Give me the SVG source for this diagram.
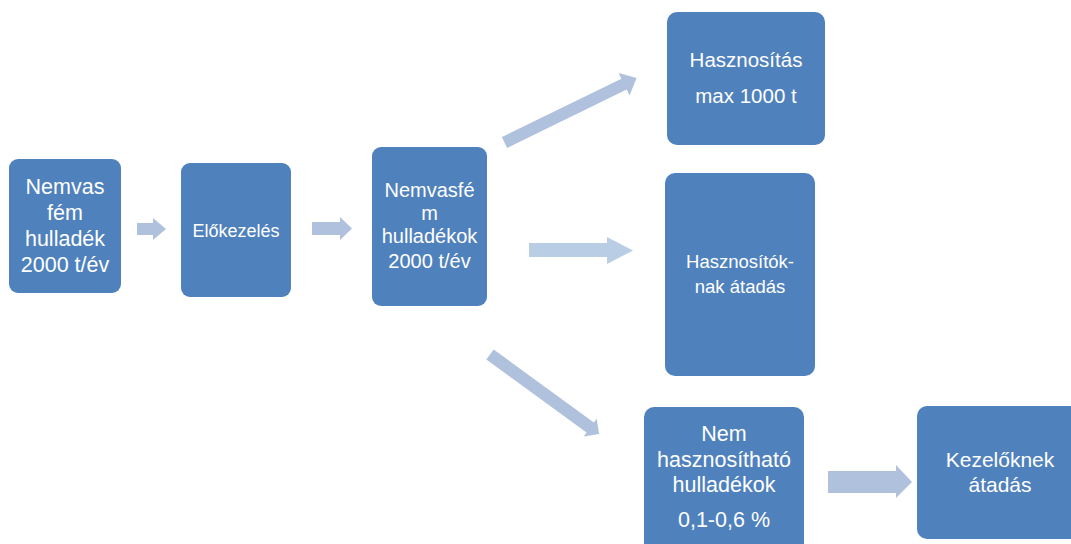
<svg xmlns="http://www.w3.org/2000/svg" width="1071" height="544" viewBox="0 0 1071 544">
<style>
.box{fill:#4F81BD}
.lbl{fill:#FFFFFF;font-family:"Liberation Sans",Arial,sans-serif;text-anchor:middle}
.arr{fill:#B0C1DD}
.arr2{fill:#B9CDE5}
</style>
<rect x="0" y="0" width="1071" height="544" fill="#FFFFFF"/>
<g id="connectors">
<polygon class="arr" points="137,223 153,223 153,218 166,229 153,240 153,235 137,235"/>
<polygon class="arr" points="312,222 340,222 340,217 352,228.5 340,240 340,235 312,235"/>
<polygon class="arr" transform="translate(504.5,142.5) rotate(-26)" points="0,-6 133,-6 133,-12.5 147,0 133,12.5 133,6 0,6"/>
<polygon class="arr2" points="529,243 607,243 607,237 633,250.5 607,264 607,257 529,257"/>
<polygon class="arr" transform="translate(490,354.5) rotate(36.1)" points="0,-6.25 124,-6.25 124,-11 135,0 124,11 124,6.25 0,6.25"/>
<polygon class="arr" points="828,471 896,471 896,465 912,482 896,498 896,493 828,493"/>
</g>
<g id="n1">
<rect class="box" x="9" y="159" width="112" height="134" rx="9"/>
<text class="lbl" font-size="21.5"><tspan x="65" y="194">Nemvas</tspan><tspan x="65" y="220">fém</tspan><tspan x="65" y="246">hulladék</tspan><tspan x="65" y="272">2000 t/év</tspan></text>
</g>
<g id="n2">
<rect class="box" x="181" y="163" width="110" height="134" rx="9"/>
<text class="lbl" font-size="18" x="236" y="237">Előkezelés</text>
</g>
<g id="n3">
<rect class="box" x="372" y="147" width="115" height="159" rx="9"/>
<text class="lbl" font-size="20"><tspan x="429.5" y="197">Nemvasfé</tspan><tspan x="429.5" y="220">m</tspan><tspan x="429.5" y="243">hulladékok</tspan><tspan x="429.5" y="268">2000 t/év</tspan></text>
</g>
<g id="n4">
<rect class="box" x="667" y="12" width="158" height="133" rx="10"/>
<text class="lbl" font-size="20.5"><tspan x="746" y="67">Hasznosítás</tspan><tspan x="746" y="103">max 1000 t</tspan></text>
</g>
<g id="n5">
<rect class="box" x="665" y="173" width="150" height="203" rx="10"/>
<text class="lbl" font-size="18.5"><tspan x="740" y="268">Hasznosítók-</tspan><tspan x="740" y="293">nak átadás</tspan></text>
</g>
<g id="n6">
<rect class="box" x="644" y="407" width="160" height="150" rx="10"/>
<text class="lbl" font-size="21.5"><tspan x="724" y="441">Nem</tspan><tspan x="724" y="467">hasznosítható</tspan><tspan x="724" y="492">hulladékok</tspan><tspan x="724" y="527">0,1-0,6 %</tspan></text>
</g>
<g id="n7">
<rect class="box" x="917" y="406" width="168" height="133" rx="10"/>
<text class="lbl" font-size="21"><tspan x="1000" y="467">Kezelőknek</tspan><tspan x="1000" y="492">átadás</tspan></text>
</g>
</svg>
